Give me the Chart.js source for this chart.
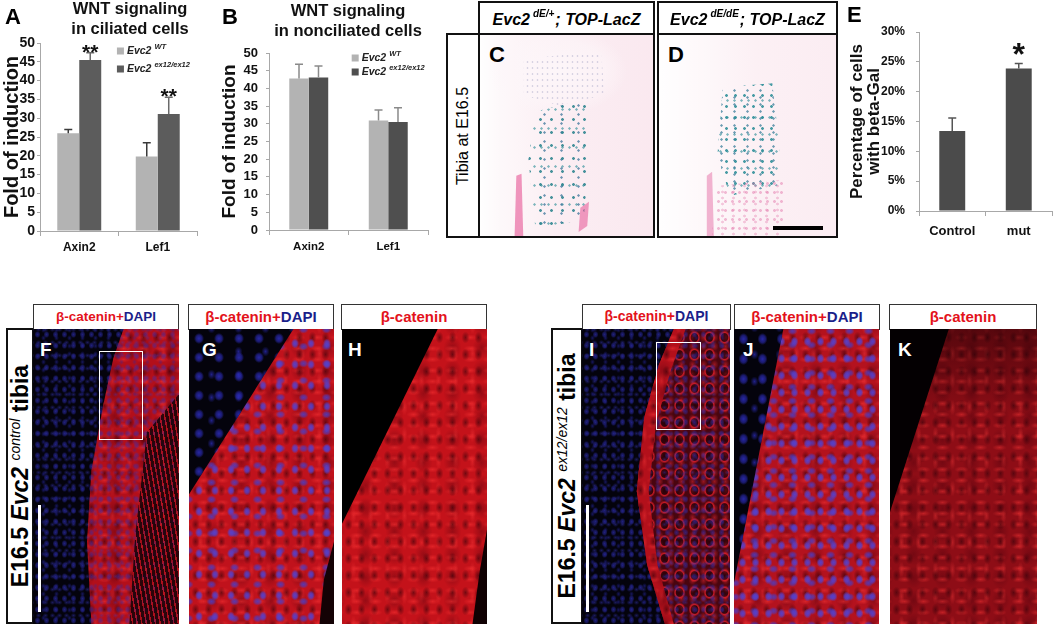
<!DOCTYPE html>
<html><head><meta charset="utf-8">
<script src="https://cdn.jsdelivr.net/npm/chart.js@4.4.1/dist/chart.umd.min.js"></script>
<style>
html,body{margin:0;padding:0;background:#fff;}
#root{position:relative;width:1053px;height:625px;overflow:hidden;font-family:"Liberation Sans",Arial,Helvetica,sans-serif;}
canvas{position:absolute;}
.lt{position:absolute;font-weight:bold;font-size:22px;line-height:1;color:#000;}
.box{position:absolute;box-sizing:border-box;border:2px solid #111;background:#fff;}
.hbox{position:absolute;box-sizing:border-box;border:2px solid #111;background:#fff;display:flex;align-items:center;justify-content:center;font-weight:bold;font-style:italic;font-size:16px;line-height:1;white-space:nowrap;padding-top:3px;}
.hdr{position:absolute;box-sizing:border-box;border:1.5px solid #333;background:#fff;text-align:center;font-weight:bold;white-space:nowrap;}
.rot{position:absolute;left:50%;top:50%;transform:translate(-50%,-50%) rotate(-90deg);white-space:nowrap;}
.img{position:absolute;overflow:hidden;box-sizing:border-box;}
.layer{position:absolute;left:0;top:0;right:0;bottom:0;}
.plet{position:absolute;color:#fff;font-weight:bold;font-size:19px;line-height:1;}
.red{color:#e3121b}.blue{color:#1b1f8a}
.sup{font-size:10px;position:relative;top:-6px;font-weight:bold;font-style:italic;margin:0 1px 0 3px;}
.nucB{background-image:radial-gradient(ellipse 3px 3.5px at 50% 50%,rgba(50,50,190,.9) 0,rgba(50,50,190,.55) 60%,transparent 100%),radial-gradient(ellipse 2.5px 3px at 50% 50%,rgba(40,40,170,.75) 0,transparent 100%),radial-gradient(ellipse 3px 2.5px at 50% 50%,rgba(60,60,200,.6) 0,transparent 100%);background-size:9px 11px,13px 8px,7px 13px;background-position:0 0,4px 5px,2px 7px;}
.tissue{background-color:#b3101b;background-image:radial-gradient(ellipse 4px 6px at 50% 50%,rgba(50,0,8,.55) 0,transparent 100%),radial-gradient(ellipse 7px 3px at 50% 50%,rgba(255,55,55,.45) 0,transparent 100%),radial-gradient(ellipse 9px 11px at 50% 50%,rgba(70,0,12,.35) 0,transparent 100%),radial-gradient(ellipse 3px 8px at 50% 50%,rgba(255,60,60,.35) 0,transparent 100%);background-size:13px 17px,19px 11px,29px 23px,17px 27px;background-position:0 0,5px 3px,9px 7px,3px 11px;}
.nucP{background-image:radial-gradient(ellipse 4px 5px at 50% 50%,rgba(85,65,205,.95) 0,rgba(85,65,205,.75) 50%,transparent 100%),radial-gradient(ellipse 5px 4px at 50% 50%,rgba(75,60,195,.85) 0,rgba(75,60,195,.6) 50%,transparent 100%);background-size:16px 21px,23px 17px;background-position:2px 4px,11px 9px;}
</style></head>
<body><div id="root">
<canvas id="cA"></canvas>
<canvas id="cB"></canvas>
<canvas id="cE"></canvas>

<div class="lt" style="left:5px;top:6px;">A</div>
<div class="lt" style="left:222px;top:6px;">B</div>
<div class="lt" style="left:847px;top:4px;">E</div>

<!-- C / D -->
<div class="box" style="left:446px;top:33px;width:34px;height:205px;"><div class="rot" style="font-size:16px;">Tibia at E16.5</div></div>
<div class="hbox" style="left:478px;top:1px;width:177px;height:34px;">Evc2<span class="sup">dE/+</span>; TOP-LacZ</div>
<div class="hbox" style="left:657px;top:1px;width:181px;height:34px;">Evc2<span class="sup">dE/dE</span>; TOP-LacZ</div>
<div class="img" style="left:478px;top:33px;width:177px;height:205px;border:2px solid #111;background:#fbeef3;">
  <div class="layer" style="background:linear-gradient(90deg,rgba(255,255,255,.95) 0,rgba(255,255,255,.6) 12%,rgba(252,236,242,.2) 45%,rgba(248,222,232,.35) 100%);"></div>
  <div class="layer" style="background:radial-gradient(ellipse 40% 22% at 45% 18%,rgba(253,246,249,.95) 0,rgba(253,246,249,.6) 70%,transparent 100%);"></div>
  <div class="layer" style="clip-path:polygon(25% 12%,70% 8%,72% 30%,45% 35%,25% 30%);background-image:radial-gradient(circle at 50% 50%,rgba(150,150,190,.35) 0 0.7px,transparent 1.2px);background-size:5px 6px;"></div>
  <div class="layer" style="clip-path:polygon(32% 38%,62% 32%,63% 60%,60% 92%,32% 96%,28% 62%);background-image:radial-gradient(circle at 50% 50%,rgba(40,130,140,.85) 0 1px,transparent 1.7px),radial-gradient(circle at 50% 50%,rgba(50,110,150,.7) 0 0.9px,transparent 1.5px),radial-gradient(circle at 50% 50%,rgba(40,140,150,.6) 0 0.9px,transparent 1.5px);background-size:11px 13px,17px 9px,7px 19px;background-position:0 0,5px 3px,2px 8px;"></div>
  <div class="layer" style="clip-path:polygon(21% 70%,24% 69%,25% 100%,20% 100%);background:rgba(232,95,155,.65);"></div>
  <div class="layer" style="clip-path:polygon(58% 86%,63% 83%,62% 95%,57% 98%);background:rgba(232,95,155,.6);"></div>
  <div class="lt" style="left:9px;top:9px;font-size:22px;">C</div>
</div>
<div class="img" style="left:657px;top:33px;width:181px;height:205px;border:2px solid #111;background:#fcf1f5;">
  <div class="layer" style="background:linear-gradient(90deg,rgba(255,255,255,.95) 0,rgba(255,255,255,.5) 25%,rgba(252,236,242,.2) 55%,rgba(250,230,238,.4) 100%);"></div>
  <div class="layer" style="clip-path:polygon(36% 26%,64% 24%,68% 55%,67% 75%,40% 80%,33% 60%);background-image:radial-gradient(circle at 50% 50%,rgba(40,140,150,.85) 0 1px,transparent 1.7px),radial-gradient(circle at 50% 50%,rgba(50,120,150,.7) 0 0.9px,transparent 1.5px),radial-gradient(circle at 50% 50%,rgba(40,140,150,.6) 0 0.9px,transparent 1.5px);background-size:9px 11px,13px 7px,7px 17px;background-position:0 0,4px 3px,2px 6px;"></div>
  <div class="layer" style="clip-path:polygon(32% 75%,70% 72%,72% 100%,30% 100%);background-image:radial-gradient(circle at 50% 50%,rgba(225,110,165,.45) 0 1px,transparent 1.8px),radial-gradient(circle at 50% 50%,rgba(225,110,165,.35) 0 1px,transparent 1.8px);background-size:7px 9px,11px 6px;background-position:0 0,3px 4px;"></div>
  <div class="layer" style="clip-path:polygon(27% 70%,30% 68%,31% 100%,27% 100%);background:rgba(230,110,165,.5);"></div>
  <div class="lt" style="left:9px;top:9px;font-size:22px;">D</div>
  <div style="position:absolute;left:114px;top:191px;width:50px;height:4px;background:#000;"></div>
</div>

<!-- F G H -->
<div class="box" style="left:6px;top:328px;width:28px;height:296px;"><div class="rot" style="font-size:23px;font-weight:bold;">E16.5 <i>Evc2</i> <span style="font-size:14px;font-style:italic;font-weight:normal;position:relative;top:-8px;">control</span> tibia</div></div>
<div class="hdr" style="left:33px;top:304px;width:146px;height:26px;font-size:13.5px;line-height:23px;"><span class="red">β-catenin+</span><span class="blue">DAPI</span></div>
<div class="hdr" style="left:188px;top:304px;width:146px;height:26px;font-size:15px;line-height:23px;"><span class="red">β-catenin+</span><span class="blue">DAPI</span></div>
<div class="hdr" style="left:341px;top:304px;width:146px;height:26px;font-size:15px;line-height:23px;"><span class="red">β-catenin</span></div>

<div class="img" style="left:33px;top:329px;width:146px;height:295px;background:#04030c;">
  <div class="layer nucB" style="opacity:.7"></div>
  <div class="layer tissue" style="clip-path:polygon(62% 0,100% 0,100% 100%,40% 100%,37% 72%,40% 48%,48% 26%,55% 10%);"></div>
  <div class="layer nucB" style="clip-path:polygon(62% 0,100% 0,100% 100%,40% 100%,37% 72%,40% 48%,48% 26%,55% 10%);opacity:.55;"></div>
  <div class="layer" style="clip-path:polygon(78% 35%,100% 22%,100% 100%,66% 100%,70% 70%);background:repeating-linear-gradient(80deg,rgba(20,2,6,.85) 0 3px,rgba(170,15,30,.5) 3px 4.5px);"></div>
  <div class="plet" style="left:7px;top:11px;">F</div>
  <div style="position:absolute;left:66px;top:22px;width:44px;height:89px;border:1.5px solid #fff;box-sizing:border-box;"></div>
  <div style="position:absolute;left:5px;top:176px;width:3px;height:107px;background:#fff;"></div>
</div>
<div class="img" style="left:189px;top:329px;width:145px;height:295px;">
  <div class="layer tissue" style="background-color:#c0121c;"></div>
  <div class="layer nucP"></div>
  <div class="layer" style="clip-path:polygon(0 0,72% 0,0 56%);background:#04030c;background-image:radial-gradient(ellipse 5px 5.5px at 50% 50%,rgba(45,45,190,.85) 0,rgba(45,45,190,.55) 60%,transparent 100%),radial-gradient(ellipse 4px 5px at 50% 50%,rgba(45,45,190,.7) 0,transparent 100%);background-size:20px 19px,27px 23px;background-position:0 0,9px 11px;"></div>
  <div class="layer" style="clip-path:polygon(93% 85%,100% 72%,100% 100%,90% 100%);background:#140205;"></div>
  <div class="plet" style="left:13px;top:11px;">G</div>
</div>
<div class="img" style="left:342px;top:329px;width:145px;height:295px;">
  <div class="layer tissue" style="background-color:#c4121a;"></div>
  <div class="layer" style="clip-path:polygon(0 0,66% 0,0 66%);background:#000;"></div>
  <div class="layer" style="clip-path:polygon(95% 82%,100% 68%,100% 100%,90% 100%);background:#100103;"></div>
  <div class="plet" style="left:6px;top:11px;">H</div>
</div>

<!-- I J K -->
<div class="box" style="left:551px;top:328px;width:32px;height:296px;"><div class="rot" style="font-size:23px;font-weight:bold;">E16.5 <i>Evc2</i> <span style="font-size:14px;font-style:italic;font-weight:normal;position:relative;top:-8px;">ex12/ex12</span> tibia</div></div>
<div class="hdr" style="left:582px;top:304px;width:149px;height:26px;font-size:14px;line-height:23px;"><span class="red">β-catenin+</span><span class="blue">DAPI</span></div>
<div class="hdr" style="left:734px;top:304px;width:146px;height:26px;font-size:15px;line-height:23px;"><span class="red">β-catenin+</span><span class="blue">DAPI</span></div>
<div class="hdr" style="left:889px;top:304px;width:148px;height:26px;font-size:15px;line-height:23px;"><span class="red">β-catenin</span></div>

<div class="img" style="left:582px;top:329px;width:148px;height:295px;background:#04030c;">
  <div class="layer nucB" style="opacity:.7"></div>
  <div class="layer" style="clip-path:polygon(62% 0,100% 0,100% 100%,56% 100%,44% 80%,37% 55%,42% 30%,52% 12%);background:#4a0610;background-image:radial-gradient(ellipse 6px 7px at 50% 50%,rgba(20,0,5,.6) 0,rgba(20,0,5,.4) 55%,rgba(220,30,40,.85) 72%,transparent 100%),radial-gradient(ellipse 4px 5px at 50% 50%,rgba(230,40,50,.5) 0,transparent 100%);background-size:15px 17px,11px 9px;background-position:0 0,6px 4px;"></div>
  <div class="layer nucB" style="clip-path:polygon(62% 0,100% 0,100% 100%,56% 100%,44% 80%,37% 55%,42% 30%,52% 12%);opacity:.6;"></div>
  <div class="layer tissue" style="clip-path:polygon(62% 0,70% 0,60% 14%,50% 32%,45% 55%,51% 80%,62% 100%,56% 100%,44% 80%,37% 55%,42% 30%,52% 12%);"></div>
  <div class="plet" style="left:7px;top:11px;">I</div>
  <div style="position:absolute;left:74px;top:13px;width:45px;height:88px;border:1.5px solid #fff;box-sizing:border-box;"></div>
  <div style="position:absolute;left:4px;top:176px;width:3px;height:107px;background:#fff;"></div>
</div>
<div class="img" style="left:734px;top:329px;width:145px;height:295px;">
  <div class="layer tissue" style="background-color:#b4121e;"></div>
  <div class="layer nucP" style="background-size:13px 17px,19px 14px;"></div>
  <div class="layer" style="clip-path:polygon(0 0,34% 0,0 86%);background:#04030c;background-image:radial-gradient(ellipse 5px 6px at 50% 50%,rgba(45,45,190,.85) 0,rgba(45,45,190,.55) 60%,transparent 100%),radial-gradient(ellipse 4px 5px at 50% 50%,rgba(45,45,190,.7) 0,transparent 100%);background-size:19px 20px,25px 27px;background-position:0 0,8px 12px;"></div>
  <div class="plet" style="left:9px;top:11px;">J</div>
</div>
<div class="img" style="left:890px;top:329px;width:147px;height:295px;">
  <div class="layer tissue" style="background-color:#8e0d16;"></div>
  <div class="layer" style="background:linear-gradient(180deg,rgba(20,0,3,.45) 0,transparent 30%);"></div>
  <div class="layer" style="clip-path:polygon(0 0,40% 0,0 62%);background:#040002;"></div>
  <div class="plet" style="left:8px;top:11px;">K</div>
</div>

</div>
<script>
// ---------------- data ----------------
const geneLabels = ['Axin2', 'Lef1'];
const genotypeNames = ['Evc2', 'Evc2'];
const genotypeSups = ['WT', 'ex12/ex12'];
const ciliatedWT = [26.0, 19.8];
const ciliatedWTErr = [1.0, 3.7];
const ciliatedMut = [45.5, 31.1];
const ciliatedMutErr = [1.9, 4.5];
const ciliatedMutSig = ['**', '**'];
const nonciliatedWT = [42.8, 30.9];
const nonciliatedWTErr = [4.0, 3.0];
const nonciliatedMut = [43.1, 30.5];
const nonciliatedMutErr = [3.2, 4.0];
const groupLabels = ['Control', 'mut'];
const betaGalPct = [13.4, 23.9];
const betaGalErr = [2.2, 0.8];
const betaGalSig = ['', '*'];
const titleA = ['WNT signaling', 'in ciliated cells'];
const titleB = ['WNT signaling', 'in nonciliated cells'];
const foldAxisTitle = 'Fold of induction';
const pctAxisTitle = ['Percentage of cells', 'with beta-Gal'];

// ---------------- plugins ----------------
const FAM = '"Liberation Sans", Arial, Helvetica, sans-serif';
Chart.defaults.font.family = FAM;

const errorBars = {
  id: 'errorBars',
  afterDatasetsDraw(chart) {
    const ctx = chart.ctx, ys = chart.scales.y;
    chart.data.datasets.forEach((ds, di) => {
      if (!ds.errors) return;
      const meta = chart.getDatasetMeta(di);
      meta.data.forEach((bar, i) => {
        const v = ds.data[i], e = ds.errors[i];
        const y0 = ys.getPixelForValue(v), y1 = ys.getPixelForValue(v + e);
        const cap = ds.capWidth || 4;
        ctx.save();
        ctx.strokeStyle = ds.errorColor || '#444';
        ctx.lineWidth = ds.errorWidth || 1.5;
        ctx.beginPath();
        ctx.moveTo(bar.x, y0); ctx.lineTo(bar.x, y1);
        ctx.moveTo(bar.x - cap, y1); ctx.lineTo(bar.x + cap, y1);
        ctx.stroke();
        if (ds.sig && ds.sig[i]) {
          ctx.fillStyle = '#111';
          ctx.font = ds.sigFont;
          ctx.textAlign = 'center';
          ctx.textBaseline = 'alphabetic';
          ctx.fillText(ds.sig[i], bar.x, y1 + (ds.sigOffset || 0));
        }
        ctx.restore();
      });
    });
  }
};

const supLegend = {
  id: 'supLegend',
  afterDraw(chart, args, o) {
    if (!o || !o.show) return;
    const ctx = chart.ctx, a = chart.chartArea;
    const x = a.left + o.xFrac * (a.right - a.left);
    chart.data.datasets.forEach((ds, k) => {
      const cy = a.top + o.yOffset + k * o.gap;
      ctx.save();
      ctx.fillStyle = ds.backgroundColor;
      ctx.fillRect(x, cy - 3.5, 7, 7);
      ctx.fillStyle = '#222';
      ctx.textBaseline = 'middle';
      ctx.textAlign = 'left';
      ctx.font = 'italic bold ' + o.size + 'px ' + FAM;
      ctx.fillText(ds.label, x + 10, cy);
      const w = ctx.measureText(ds.label).width;
      ctx.font = 'italic bold ' + o.supSize + 'px ' + FAM;
      ctx.fillText(ds.sup, x + 10 + w + 3, cy - 4);
      ctx.restore();
    });
  }
};
Chart.register(errorBars, supLegend);

// ---------------- builder ----------------
function makeBar(id, cfg) {
  const c = document.getElementById(id);
  const { L, T, W, H, area } = cfg;
  c.width = W; c.height = H;
  c.style.left = L + 'px'; c.style.top = T + 'px';
  c.style.width = W + 'px'; c.style.height = H + 'px';
  const pl = cfg.pl;
  const yW = area.l - L - pl;
  const pr = cfg.tc != null ? 2 * L + pl + W - 2 * cfg.tc : (L + W - area.r);
  const yRW = Math.max(0, (L + W - pr) - area.r);
  const xH = (T + H) - area.b;
  let padTop = 0, titleOpt = { display: false };
  if (cfg.title) {
    const fs = cfg.titleSize, n = cfg.title.length;
    const th = area.t - T;
    const pt = cfg.titlePadTop;
    titleOpt = {
      display: true, text: cfg.title, color: '#111',
      font: { size: fs, weight: 'bold', lineHeight: 1.2 },
      padding: { top: pt, bottom: th - pt - n * fs * 1.2 }
    };
  } else {
    padTop = area.t - T;
  }
  const axisCol = '#a8a8a8';
  return new Chart(c, {
    type: 'bar',
    data: { labels: cfg.labels, datasets: cfg.datasets },
    options: {
      responsive: false, animation: false,
      layout: { padding: { left: pl, right: pr, top: padTop, bottom: 0 } },
      plugins: {
        legend: { display: false }, tooltip: { enabled: false },
        title: titleOpt,
        supLegend: cfg.legend || { show: false }
      },
      scales: {
        x: {
          grid: { display: true, drawOnChartArea: false, drawTicks: true, tickLength: 5, color: axisCol, offset: true },
          border: { color: axisCol, width: 1 },
          ticks: { font: { size: cfg.xFont, weight: 'bold' }, color: '#111', padding: cfg.xPad, maxRotation: 0, autoSkip: false },
          afterFit: s => { s.height = xH; }
        },
        y: {
          min: 0, max: cfg.yMax,
          grid: { display: true, drawOnChartArea: false, drawTicks: true, tickLength: 3, color: axisCol },
          border: { color: axisCol, width: 1 },
          ticks: { stepSize: cfg.yStep, autoSkip: false, font: { size: cfg.yFont, weight: 'bold' }, color: '#111', padding: cfg.yPad,
                   callback: cfg.yFmt || (v => v) },
          title: { display: true, text: cfg.yTitle, color: '#111', padding: 0,
                   font: { size: cfg.yTitleSize, weight: 'bold', lineHeight: cfg.yTitleLH } },
          afterFit: s => { s.width = yW; }
        },
        yR: {
          position: 'right', display: true,
          grid: { display: false }, ticks: { display: false }, border: { display: false },
          afterFit: s => { s.width = yRW; }
        }
      }
    }
  });
}

const WT_COL = '#b3b3b3';
const MUT_COL = '#5c5c5c';

makeBar('cA', {
  L: 0, T: 0, W: 262, H: 258, pl: 2, tc: 130,
  area: { l: 40, r: 197, t: 43, b: 231 },
  title: titleA, titleSize: 16.5, titlePadTop: 0,
  labels: geneLabels,
  datasets: [
    { label: genotypeNames[0], sup: genotypeSups[0], data: ciliatedWT, errors: ciliatedWTErr,
      backgroundColor: WT_COL, errorColor: '#3a3a3a', categoryPercentage: 0.56, barPercentage: 1, yAxisID: 'y' },
    { label: genotypeNames[1], sup: genotypeSups[1], data: ciliatedMut, errors: ciliatedMutErr, sig: ciliatedMutSig,
      sigFont: 'bold 21px ' + FAM, sigOffset: 6,
      backgroundColor: MUT_COL, errorColor: '#6a6a6a', categoryPercentage: 0.56, barPercentage: 1, yAxisID: 'y' }
  ],
  legend: { show: true, xFrac: 0.49, yOffset: 8, gap: 18, size: 10.5, supSize: 7.5 },
  xFont: 12, xPad: 4, yMax: 50, yStep: 5, yFont: 14, yPad: 2,
  yTitle: foldAxisTitle, yTitleSize: 20, yTitleLH: 1.0
});

makeBar('cB', {
  L: 216, T: 0, W: 266, H: 258, pl: 4, tc: 348,
  area: { l: 269, r: 428, t: 53, b: 230 },
  title: titleB, titleSize: 16.5, titlePadTop: 2,
  labels: geneLabels,
  datasets: [
    { label: genotypeNames[0], sup: genotypeSups[0], data: nonciliatedWT, errors: nonciliatedWTErr,
      backgroundColor: WT_COL, errorColor: '#8a8a8a', categoryPercentage: 0.49, barPercentage: 1, yAxisID: 'y' },
    { label: genotypeNames[1], sup: genotypeSups[1], data: nonciliatedMut, errors: nonciliatedMutErr,
      backgroundColor: '#4f4f4f', errorColor: '#8a8a8a', categoryPercentage: 0.49, barPercentage: 1, yAxisID: 'y' }
  ],
  legend: { show: true, xFrac: 0.52, yOffset: 5, gap: 14, size: 10.5, supSize: 7.5 },
  xFont: 11.5, xPad: 5, yMax: 50, yStep: 5, yFont: 13, yPad: 8,
  yTitle: foldAxisTitle, yTitleSize: 19, yTitleLH: 1.05
});

makeBar('cE', {
  L: 843, T: 0, W: 210, H: 245, pl: 5, tc: null,
  area: { l: 919, r: 1052, t: 32, b: 211 },
  labels: groupLabels,
  datasets: [
    { label: 'beta-Gal', data: betaGalPct, errors: betaGalErr, sig: betaGalSig,
      sigFont: 'bold 32px ' + FAM, sigOffset: 1,
      backgroundColor: '#4b4b4b', errorColor: '#555', categoryPercentage: 0.39, barPercentage: 1, yAxisID: 'y' }
  ],
  xFont: 13, xPad: 8, yMax: 30, yStep: 5, yFont: 12, yPad: 11,
  yFmt: v => v + '%',
  yTitle: pctAxisTitle, yTitleSize: 17, yTitleLH: 1.05
});
</script>
</body></html>
